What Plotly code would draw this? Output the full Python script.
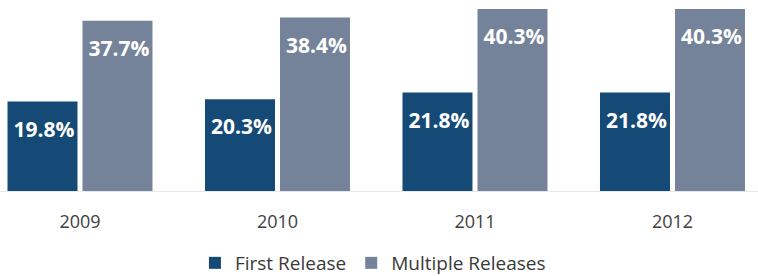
import plotly.graph_objects as go

years = ["2009", "2010", "2011", "2012"]
first_release = [19.8, 20.3, 21.8, 21.8]
multiple_releases = [37.7, 38.4, 40.3, 40.3]

FONT = "Open Sans"
label_tpl = "<span style='font-size:30px'>\u200a</span>%{y:.1f}%"

fig = go.Figure()
fig.add_trace(go.Bar(
    name="First Release", x=years, y=first_release,
    marker=dict(color="#154a76", line=dict(width=0)),
    texttemplate=label_tpl, textposition="inside", insidetextanchor="end",
    textangle=0,
    textfont=dict(family=FONT, size=21, color="white", weight="bold"),
    hoverinfo="skip",
))
fig.add_trace(go.Bar(
    name="Multiple Releases", x=years, y=multiple_releases,
    marker=dict(color="#75839a", line=dict(width=0)),
    texttemplate=label_tpl, textposition="inside", insidetextanchor="end",
    textangle=0,
    textfont=dict(family=FONT, size=21, color="white", weight="bold"),
    hoverinfo="skip",
))

fig.update_layout(
    width=758, height=276,
    margin=dict(l=0, r=0, t=9, b=85, autoexpand=False),
    paper_bgcolor="white", plot_bgcolor="white",
    barmode="group", bargap=0.2405, bargroupgap=0.0667,
    font=dict(family=FONT, color="#404040"),
    showlegend=True,
    legend=dict(orientation="h", x=0.492, xanchor="center", y=-0.3956, yanchor="middle",
                font=dict(family=FONT, size=19, color="#3a3a3a"),
                traceorder="normal"),
    xaxis=dict(type="category", range=[-0.405, 3.433], showgrid=False,
               showline=True, linecolor="#e8e8e8", linewidth=1, ticks="",
               tickfont=dict(family=FONT, size=18, color="#404040"),
               ticklabelstandoff=14, fixedrange=True, automargin=False),
    yaxis=dict(range=[0, max(multiple_releases)], visible=False, showgrid=False,
               zeroline=False, fixedrange=True, automargin=False),
)

fig.write_html("out.html", config={"displayModeBar": False},
               post_script="document.body.style.margin='0px';")
